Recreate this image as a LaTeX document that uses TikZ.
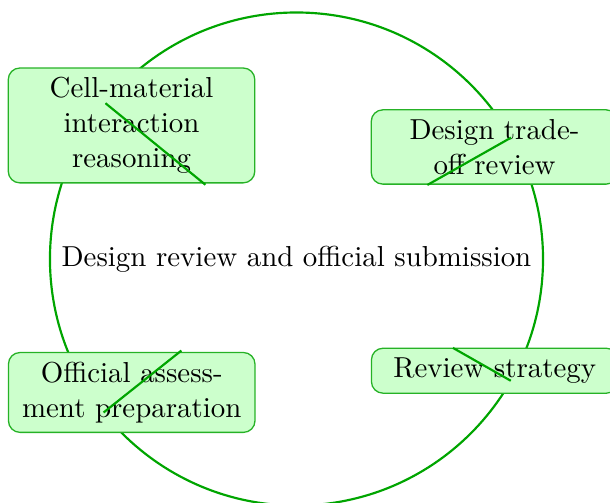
\documentclass[tikz,border=0pt]{standalone}
\usetikzlibrary{calc}
\definecolor{ringgreen}{RGB}{0,165,0}
\begin{document}
\begin{tikzpicture}[
  ring/.style={draw=ringgreen, line width=0.75pt},
  stagebox/.style={draw=ringgreen!85, line width=0.45pt, fill=green!20,
    rounded corners=4pt, minimum width=3cm, align=center, text width=2.7cm},
  spoke/.style={draw=ringgreen, line width=0.75pt}
]
\useasboundingbox (-3.608,-2.969) rectangle (3.815,3.152);

% outer cycle
\draw[ring] (0,0) circle (3cm);
\node (hub) at (0,0) {Design review and official submission};

% stages around the cycle
\node[stagebox] (s1) at (141:2.583) {Cell-material\\interaction\\reasoning};
\node[stagebox] (s2) at (29.5:2.769) {Design trade-\\off review};
\node[stagebox] (s3) at (219:2.58) {Official assess-\\ment preparation};
\node[stagebox] (s4) at (-29.4:2.769) {Review strategy};

% spokes from the ring towards the hub
\coordinate (o1) at (140.8:3);   \coordinate (i1) at (140.8:1.43);
\coordinate (o2) at (29.5:3);    \coordinate (i2) at (29.5:1.83);
\coordinate (o3) at (218.5:3);   \coordinate (i3) at (218.5:1.79);
\coordinate (o4) at (-29.6:3);   \coordinate (i4) at (-29.6:2.19);
\draw[spoke] (o1) -- (i1);
\draw[spoke] (o2) -- (i2);
\draw[spoke] (o3) -- (i3);
\draw[spoke] (o4) -- (i4);
\end{tikzpicture}
\end{document}
